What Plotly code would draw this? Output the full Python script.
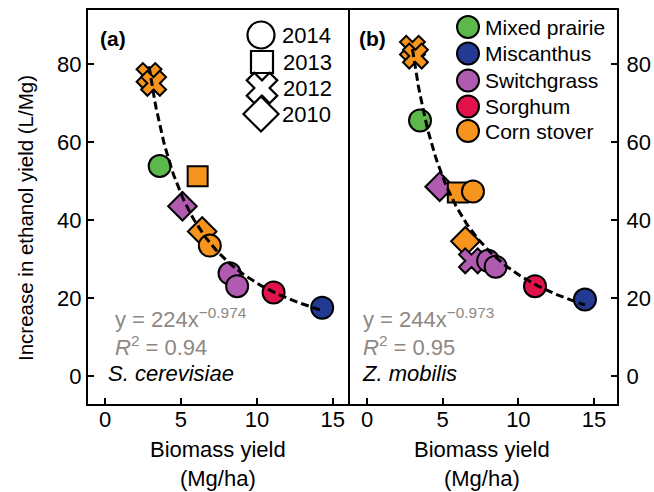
import numpy as np
import plotly.graph_objects as go

# ---------------- data ----------------
years_a = [2012, 2012, 2014, 2013, 2010, 2010, 2014, 2014, 2014, 2014, 2014]
crops_a = ["Corn stover", "Corn stover", "Mixed prairie", "Corn stover", "Switchgrass",
           "Corn stover", "Corn stover", "Switchgrass", "Switchgrass", "Sorghum", "Miscanthus"]
biomass_a = [2.9, 3.2, 3.6, 6.1, 5.1, 6.4, 6.9, 8.2, 8.7, 11.1, 14.3]
increase_a = [77.0, 75.0, 53.8, 51.2, 43.5, 37.0, 33.4, 26.3, 23.0, 21.4, 17.5]

years_b = [2012, 2012, 2014, 2010, 2013, 2014, 2010, 2012, 2014, 2014, 2014, 2014]
crops_b = ["Corn stover", "Corn stover", "Mixed prairie", "Switchgrass", "Corn stover",
           "Corn stover", "Corn stover", "Switchgrass", "Switchgrass", "Switchgrass",
           "Sorghum", "Miscanthus"]
biomass_b = [3.0, 3.2, 3.5, 4.8, 6.0, 7.0, 6.5, 6.9, 8.0, 8.5, 11.1, 14.4]
increase_b = [84.0, 82.0, 65.5, 48.5, 47.0, 47.3, 34.5, 29.5, 29.5, 28.0, 23.0, 19.6]

fit_a = {"coef": 224, "exp": -0.974, "r2": 0.94, "xmin": 2.9, "xmax": 14.3}
fit_b = {"coef": 244, "exp": -0.973, "r2": 0.95, "xmin": 3.0, "xmax": 14.4}

crop_order = ["Mixed prairie", "Miscanthus", "Switchgrass", "Sorghum", "Corn stover"]
year_order = [2014, 2013, 2012, 2010]
x_ticks = [0, 5, 10, 15]
y_ticks = [0, 20, 40, 60, 80]

# ---------------- styles ----------------
crop_colors = {"Mixed prairie": "#5cb84a", "Miscanthus": "#233a94", "Switchgrass": "#b05ab0",
               "Sorghum": "#e2124a", "Corn stover": "#f7941e"}
year_symbols = {2014: "circle", 2013: "square", 2012: "x", 2010: "diamond"}
year_sizes = {2014: 22, 2013: 20, 2012: 22, 2010: 22}
FONT = "Liberation Sans, Arial, Helvetica, sans-serif"
FS = 21
FS_BIG = 22
GRAY = "#8f8782"

# plot area in page pixels (used only for placing legend / text elements)
L, R, T, B = 88, 617, 10, 404
W, H = R - L, B - T


def px2paper(px, py):
    return (px - L) / W, (B - py) / H


fig = go.Figure()


def add_panel(xs, ys, yrs, crps, fit, xa, ya):
    for i in range(len(xs)):
        fig.add_trace(go.Scatter(
            x=[xs[i]], y=[ys[i]], mode="markers", xaxis=xa, yaxis=ya, showlegend=False,
            marker=dict(symbol=year_symbols[yrs[i]], size=year_sizes[yrs[i]],
                        color=crop_colors[crps[i]], line=dict(color="black", width=2)),
            hoverinfo="skip"))
    fx = np.linspace(fit["xmin"], fit["xmax"], 120)
    fy = fit["coef"] * fx ** fit["exp"]
    fig.add_trace(go.Scatter(x=fx, y=fy, mode="lines", xaxis=xa, yaxis=ya, showlegend=False,
                             line=dict(color="black", width=3, dash="8px,4px"),
                             hoverinfo="skip"))


add_panel(biomass_a, increase_a, years_a, crops_a, fit_a, "x", "y")
add_panel(biomass_b, increase_b, years_b, crops_b, fit_b, "x2", "y2")

# ---------- manual legends on a pixel-coordinate overlay subplot ----------
leg_year_pos = [(261, 35), (262, 62), (262, 88), (261, 114)]
leg_year_size = {2014: 27, 2013: 22, 2012: 27, 2010: 27}
for (px, py), yr in zip(leg_year_pos, year_order):
    fig.add_trace(go.Scatter(
        x=[px], y=[py], mode="markers", xaxis="x3", yaxis="y3", showlegend=False,
        marker=dict(symbol=year_symbols[yr], size=leg_year_size[yr], color="white",
                    line=dict(color="black", width=2.2)), hoverinfo="skip"))
    fig.add_annotation(x=px + 19, y=py, xref="x3", yref="y3", text=str(yr), showarrow=False,
                       xanchor="left", yanchor="middle", font=dict(size=FS_BIG, color="black"))

leg_crop_pos = [(468, 27), (468, 53.5), (468, 80.5), (468, 106.5), (468, 131)]
for (px, py), crop in zip(leg_crop_pos, crop_order):
    fig.add_trace(go.Scatter(
        x=[px], y=[py], mode="markers", xaxis="x3", yaxis="y3", showlegend=False,
        marker=dict(symbol="circle", size=22, color=crop_colors[crop],
                    line=dict(color="black", width=2)), hoverinfo="skip"))
    fig.add_annotation(x=px + 15, y=py, xref="x3", yref="y3", text=crop, showarrow=False,
                       xanchor="left", yanchor="middle", font=dict(size=FS, color="black"))

# panel labels, equations, organism names
texts = [
    (98, 38, "<b>(a)</b>", "black", FS),
    (357, 38, "<b>(b)</b>", "black", FS),
    (113, 318, "y = %dx<sup>\u2212%.3f</sup>" % (fit_a["coef"], -fit_a["exp"]), GRAY, FS_BIG),
    (113, 346, "<i>R</i><sup>2</sup> = %.2f" % fit_a["r2"], GRAY, FS_BIG),
    (106, 373, "<i>S. cerevisiae</i>", "black", FS_BIG),
    (361, 318, "y = %dx<sup>\u2212%.3f</sup>" % (fit_b["coef"], -fit_b["exp"]), GRAY, FS_BIG),
    (361, 346, "<i>R</i><sup>2</sup> = %.2f" % fit_b["r2"], GRAY, FS_BIG),
    (360, 373, "<i>Z. mobilis</i>", "black", FS_BIG),
]
for px, py, t, c, fs in texts:
    fig.add_annotation(x=px, y=py, xref="x3", yref="y3", text=t, showarrow=False,
                       xanchor="left", yanchor="middle", font=dict(size=fs, color=c))

# axis titles (outside the plot area -> paper coordinates)
for cx in (218, 482):
    ax, ay = px2paper(cx, 464)
    fig.add_annotation(x=ax, y=ay, xref="paper", yref="paper", text="Biomass yield<br>(Mg/ha)",
                       showarrow=False, xanchor="center", yanchor="middle",
                       font=dict(size=FS_BIG, color="black"))
ax, ay = px2paper(25, 218)
fig.add_annotation(x=ax, y=ay, xref="paper", yref="paper", text="Increase in ethanol yield (L/Mg)",
                   showarrow=False, textangle=-90, xanchor="center", yanchor="middle",
                   font=dict(size=20.5, color="black"))

axis_common = dict(showline=True, linewidth=2, linecolor="black", automargin=False,
                   ticks="inside", ticklen=6, tickwidth=1.5, tickcolor="black",
                   showgrid=False, zeroline=False, tickfont=dict(size=FS_BIG, color="black"))

split = (348 - L) / W

fig.update_layout(
    width=654, height=492,
    margin=dict(l=L, r=654 - R, t=T, b=492 - B, autoexpand=False),
    paper_bgcolor="white", plot_bgcolor="rgba(0,0,0,0)",
    font=dict(family=FONT, size=FS, color="black"),
    showlegend=False,
    xaxis=dict(domain=[0, split], range=[-1.12, 16.0], tickvals=x_ticks, anchor="y",
               mirror=True, ticklabelstandoff=-5, **axis_common),
    yaxis=dict(domain=[0, 1], range=[-7.2, 93.8], tickvals=y_ticks, anchor="x",
               mirror=True, ticklabelstandoff=0, **axis_common),
    xaxis2=dict(domain=[split, 1], range=[-1.26, 16.52], tickvals=x_ticks, anchor="y2",
                mirror=True, ticklabelstandoff=-5, **axis_common),
    yaxis2=dict(domain=[0, 1], range=[-7.2, 93.8], tickvals=y_ticks, anchor="x2", side="right",
                mirror=False, ticklabelstandoff=3, **axis_common),
    xaxis3=dict(domain=[0, 1], range=[L, R], visible=False, anchor="y3", fixedrange=True),
    yaxis3=dict(domain=[0, 1], range=[B, T], visible=False, anchor="x3", fixedrange=True),
)

fig.write_html("out.html")
